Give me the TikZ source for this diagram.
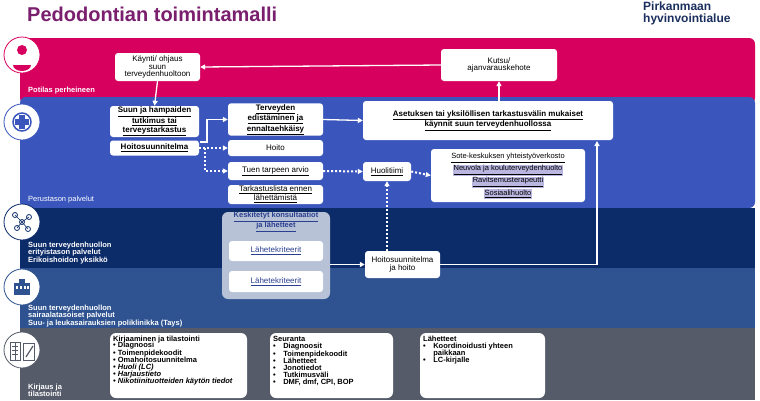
\documentclass[tikz,border=0pt]{standalone}
\usepackage{fontspec}
\setmainfont{Liberation Sans}
\usetikzlibrary{arrows.meta}
\definecolor{pink}{HTML}{D8005F}
\definecolor{pblue}{HTML}{3A56BD}
\definecolor{navy}{HTML}{0C2B69}
\definecolor{mblue}{HTML}{2E5390}
\definecolor{gray1}{HTML}{555B69}
\definecolor{purp}{HTML}{7A1E6E}
\definecolor{logo}{HTML}{1B2F5E}
\definecolor{hl}{HTML}{B9B6E0}
\definecolor{grp}{HTML}{B7C2D6}
\definecolor{lnk}{HTML}{2A3F8F}
\begin{document}
\begin{tikzpicture}[x=1pt,y=-1pt,
 box/.style={draw=none,fill=white,rounded corners=3pt,align=center,font=\fontsize{8}{7.5}\selectfont,inner sep=1pt},
 bb/.style={box,font=\fontsize{8}{7.5}\selectfont\bfseries},
 arr/.style={white,line width=1.3pt,-{Triangle[length=5pt,width=5pt]}},
 dar/.style={white,line width=2pt,dash pattern=on 2pt off 2pt,-{Triangle[length=5pt,width=5pt]}},
 lab/.style={white,anchor=south west,align=left,font=\fontsize{7.5}{7.5}\selectfont\bfseries,inner sep=0},
 icon/.style={circle,draw=#1,line width=0.8pt,fill=white,minimum size=36pt,inner sep=0},
 lst/.style={align=left,anchor=north west,font=\fontsize{7.5}{7}\selectfont\bfseries,inner sep=3pt},
 lbg/.style={fill=white,rounded corners=6pt}]
\useasboundingbox (0,0) rectangle (760,400);
\fill[white] (0,0) rectangle (760,400);
% bands
\fill[pink,rounded corners=6pt] (20,38) rectangle (755,104);
\fill[pblue,rounded corners=6pt] (20,97) rectangle (755,208);
\fill[navy] (20,208) rectangle (755,268);
\fill[mblue] (20,268) rectangle (755,328);
\fill[gray1] (20,328) rectangle (755,400);
% title
\node[anchor=west,text=purp,font=\fontsize{20}{20}\selectfont\bfseries,inner sep=0] (title) at (27,14) {Pedodontian toimintamalli};
\node[anchor=north west,text=logo,align=left,font=\fontsize{12}{12}\selectfont\bfseries,inner sep=0] (logo) at (643,2) {Pirkanmaan\\hyvinvointialue};
% icons
\node[icon=pink] (i1) at (22,55) {};
\fill[pink] (22,50) circle (5); \fill[pink] (13,65) arc(180:0:9 and 6) -- cycle;
\node[icon=pblue] (i2) at (22,122) {};
\draw[pblue,line width=1.5pt] (22,122) circle (9);
\fill[pblue] (19,115) rectangle (25,129); \fill[pblue] (15,119) rectangle (29,125);
\node[icon=navy] (i3) at (22,222) {};
\foreach \a/\b in {15/215,29/217,17/228,28/229,22/222}{\draw[navy,line width=0.8pt] (\a,\b) circle (2.5);}
\draw[navy,line width=0.6pt] (15,215)--(22,222)--(29,217) (17,228)--(22,222)--(28,229);
\node[icon=mblue] (i4) at (22,287) {};
\fill[mblue] (14,283) rectangle (30,295); \fill[mblue] (19,279) rectangle (25,283);
\foreach \x in {16,20,24,27}{\fill[white] (\x,286) rectangle ++(2,3);}
\node[icon=gray1] (i5) at (22,350) {};
\draw[gray1,line width=1pt] (10,342) rectangle (20,360) (23,343) rectangle (34,360);
\draw[gray1] (12,346)--(18,346) (12,350)--(18,350) (12,354)--(18,354) (15,342)--(15,360);
\draw[gray1,line width=1.2pt] (26,357)--(33,346);
% band labels
\node[lab] (l1) at (28,94) {Potilas perheineen};
\node[lab,font=\fontsize{7.5}{7.5}\selectfont] (l2) at (28,203) {Perustason palvelut};
\node[lab] (l3) at (28,264) {Suun terveydenhuollon\\erityistason palvelut\\Erikoishoidon yksikkö};
\node[lab] (l4) at (28,327) {Suun terveydenhuollon\\sairaalatasoiset palvelut\\Suu- ja leukasairauksien poliklinikka (Tays)};
\node[lab] (l5) at (28,397) {Kirjaus ja\\tilastointi};
% nodes
\node[box,minimum width=85pt,minimum height=28pt] (kay) at (157.5,67) {Käynti/ ohjaus\\suun\\terveydenhuoltoon};
\node[box,minimum width=116pt,minimum height=32pt] (kut) at (499,65) {Kutsu/\\ajanvarauskehote};
\node[bb,minimum width=89pt,minimum height=31pt] (suun) at (154.5,121.5) {\underline{Suun ja hampaiden}\\\underline{tutkimus tai}\\\underline{terveystarkastus}};
\node[bb,minimum width=89pt,minimum height=15pt] (hs) at (154.5,148) {\underline{Hoitosuunnitelma}};
\node[bb,minimum width=95pt,minimum height=27pt] (ter) at (275.5,119.5) {\underline{Terveyden}\\\underline{edistäminen ja}\\\underline{ennaltaehkäisy}};
\node[box,minimum width=95pt,minimum height=16pt] (hoi) at (275.5,148) {Hoito};
\node[box,minimum width=95pt,minimum height=18pt] (tue) at (275.5,171) {\underline{Tuen tarpeen arvio}};
\node[box,minimum width=95pt,minimum height=19pt] (tar) at (275.5,194.5) {\underline{Tarkastuslista ennen}\\\underline{lähettämistä}};
\node[bb,minimum width=250pt,minimum height=39pt] (ase) at (488,120.5) {\underline{Asetuksen tai yksilöllisen tarkastusvälin mukaiset}\\\underline{käynnit suun terveydenhuollossa}};
\node[box,minimum width=48pt,minimum height=19pt] (huo) at (387,171.5) {\underline{Huolitiimi}};
\node[box,minimum width=154pt,minimum height=53pt] (sote) at (508,175.5) {};
\node[font=\fontsize{7.5}{7.5}\selectfont,inner sep=0] (s0) at (508,158) {\underline{Sote-keskuksen yhteistyöverkosto}};
\node[fill=hl,font=\fontsize{7.5}{7.5}\selectfont,inner sep=1pt] (s1) at (508,170) {\underline{Neuvola ja kouluterveydenhuolto}};
\node[fill=hl,font=\fontsize{7.5}{7.5}\selectfont,inner sep=1pt] (s2) at (508,182) {\underline{Ravitsemusterapeutti}};
\node[fill=hl,font=\fontsize{7.5}{7.5}\selectfont,inner sep=1pt] (s3) at (508,194) {\underline{Sosiaalihuolto}};
\node[fill=grp,rounded corners=6pt,minimum width=108pt,minimum height=87pt,inner sep=0] (grp) at (276,255.5) {};
\node[text=lnk,font=\fontsize{7.5}{7}\selectfont\bfseries,align=center,inner sep=0] (kes) at (276,222) {\underline{Keskitetyt konsultaatiot}\\\underline{ja lähetteet}};
\node[box,text=lnk,minimum width=94pt,minimum height=20pt] (lk1) at (276,251) {\underline{Lähetekriteerit}};
\node[box,text=lnk,minimum width=94pt,minimum height=21pt] (lk2) at (276,281.5) {\underline{Lähetekriteerit}};
\node[box,minimum width=75pt,minimum height=27pt] (hjh) at (402.5,264.5) {Hoitosuunnitelma\\ja hoito};
% bottom
\fill[lbg] (110,333) rectangle (247,398);
\fill[lbg] (270,333) rectangle (393,398);
\fill[lbg] (420,333) rectangle (545,398);
\node[lst] (b1) at (110,333) {Kirjaaminen ja tilastointi\\[-1pt]
• Diagnoosi\\• Toimenpidekoodit\\• Omahoitosuunnitelma\\\textit{• Huoli (LC)}\\\textit{• Harjaustieto}\\\textit{• Nikotiinituotteiden käytön tiedot}};
\node[lst] (b2) at (270,333) {Seuranta\\•\quad Diagnoosit\\•\quad Toimenpidekoodit\\•\quad Lähetteet\\•\quad Jonotiedot\\•\quad Tutkimusväli\\•\quad DMF, dmf, CPI, BOP};
\node[lst] (b3) at (420,333) {Lähetteet\\•\quad Koordinoidusti yhteen\\\phantom{•}\quad paikkaan\\•\quad LC-kirjalle};
% connectors
\draw[arr] (kut.west) -- (kay.east);
\draw[arr] (kay.south) -- (suun.north);
\coordinate (c1) at (200,142);
\draw[arr] (c1) -- (207,142) |- (ter.west);
\draw[arr] (ter.east) -- (ase.west);
\draw[dar] (hs.east) -- (hoi.west);
\draw[dar] (205,148) |- (tue.west);
\draw[dar] (tue.east) -- (huo.west);
\draw[dar] (huo.east) -- (sote.west);
\draw[arr] (ase.north -| kut.south) -- (kut.south);
\draw[arr] (hjh.east) -| (597,141);
\draw[dar] (hjh.north -| huo.south) -- (huo.south);
\draw[arr] (grp.east |- hjh.west) -- (hjh.west);
\end{tikzpicture}
\end{document}
